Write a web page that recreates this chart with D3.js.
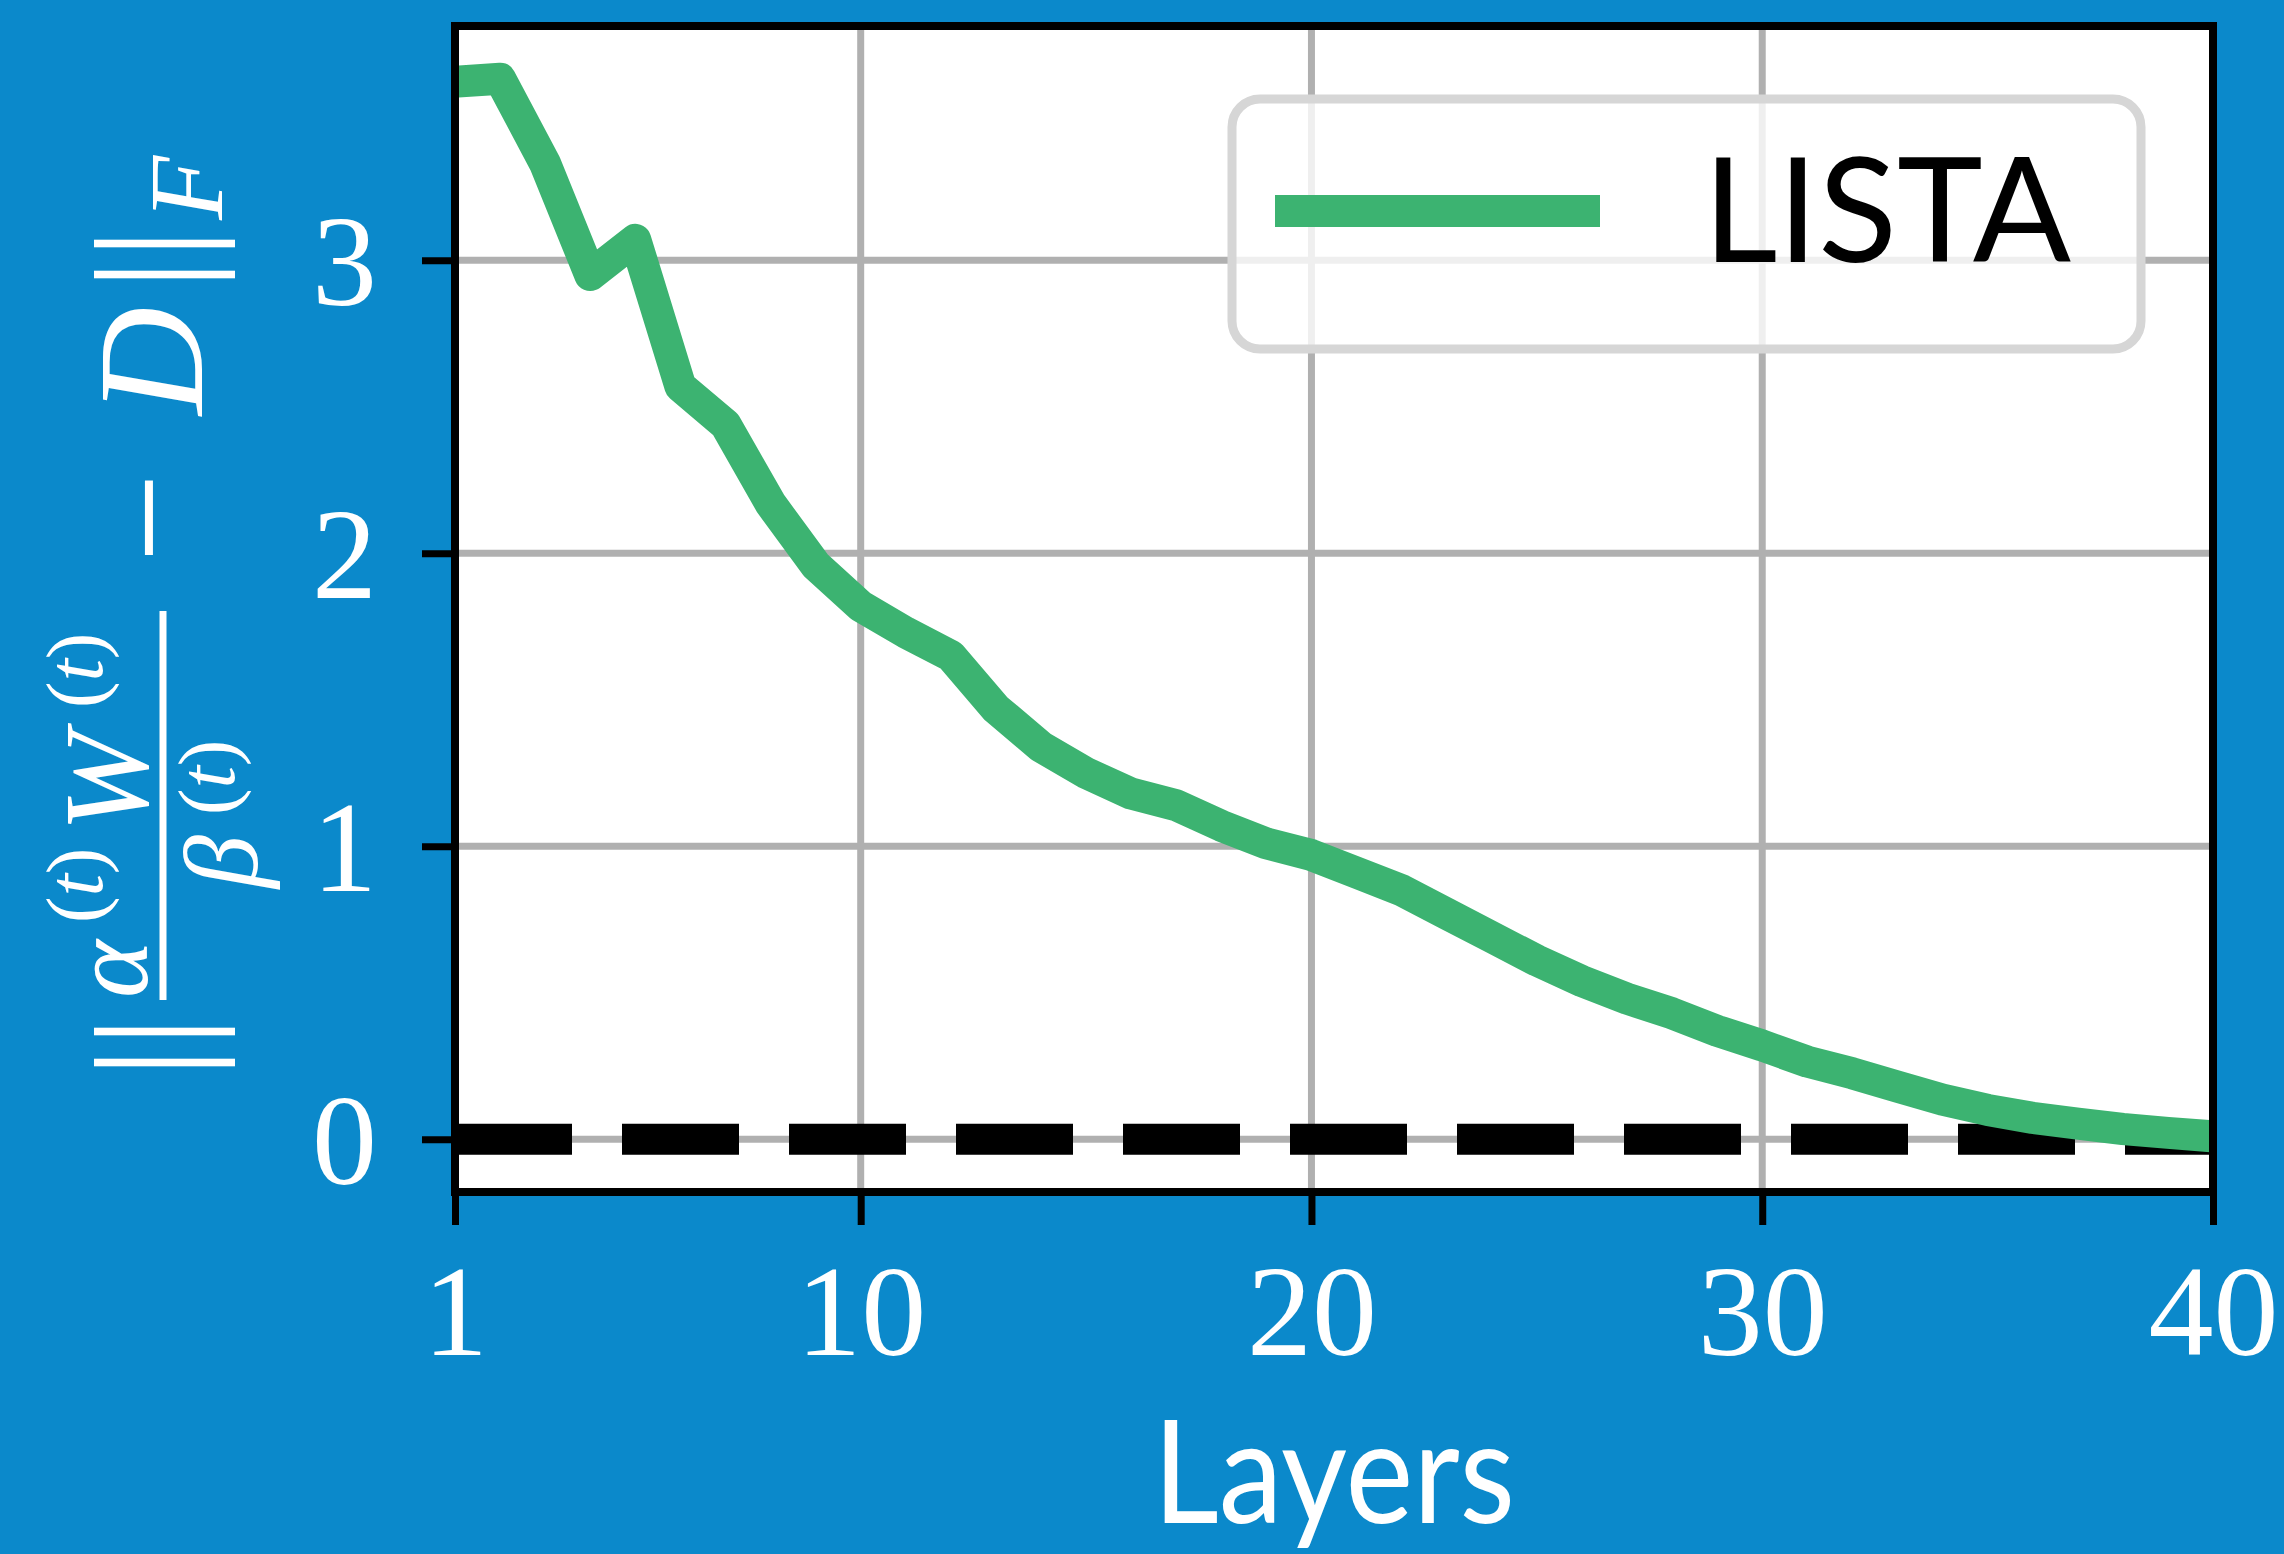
<!DOCTYPE html>
<html>
<head>
<meta charset="utf-8">
<script src="https://cdn.jsdelivr.net/npm/d3@7"></script>
<style>
  body { margin: 0; background: #0b89cb; }
  svg { display: block; }
</style>
</head>
<body>
<div id="chart"></div>
<script>
// chart data
const listaValues = [3.61, 3.62, 3.33, 2.95, 3.07, 2.57, 2.44, 2.17, 1.96, 1.82,
  1.73, 1.65, 1.47, 1.34, 1.25, 1.18, 1.14, 1.07, 1.01, 0.97,
  0.91, 0.85, 0.77, 0.69, 0.61, 0.54, 0.48, 0.43, 0.37, 0.32,
  0.265, 0.225, 0.18, 0.135, 0.10, 0.073, 0.053, 0.035, 0.022, 0.01];
const layers = listaValues.map((v, i) => i + 1);
const xTicks = [1, 10, 20, 30, 40];
const yTicks = [0, 1, 2, 3];
const seriesName = "LISTA";
const xLabel = "Layers";

// Set up size
const svgWidth = 2284;
const svgHeight = 1554;
const plot = { left: 455, right: 2213, top: 26, bottom: 1192 };

const svg = d3.select("#chart")
  .append("svg")
  .attr("width", svgWidth)
  .attr("height", svgHeight);

svg.append("rect")
  .attr("width", svgWidth)
  .attr("height", svgHeight)
  .attr("fill", "#0b89cb");

// scales
const x = d3.scaleLinear().domain([1, 40]).range([plot.left, plot.right]);
const y = d3.scaleLinear().domain([-0.18, 3.80]).range([plot.bottom, plot.top]);

// axes background
svg.append("rect")
  .attr("x", plot.left)
  .attr("y", plot.top)
  .attr("width", plot.right - plot.left)
  .attr("height", plot.bottom - plot.top)
  .attr("fill", "white");

svg.append("clipPath").attr("id", "clip")
  .append("rect")
  .attr("x", plot.left)
  .attr("y", plot.top)
  .attr("width", plot.right - plot.left)
  .attr("height", plot.bottom - plot.top);

// grid
const grid = svg.append("g").attr("stroke", "#b0b0b0").attr("stroke-width", 7);
grid.selectAll(".vgrid").data(xTicks).join("line")
  .attr("x1", d => x(d)).attr("x2", d => x(d))
  .attr("y1", plot.top).attr("y2", plot.bottom);
grid.selectAll(".hgrid").data(yTicks).join("line")
  .attr("x1", plot.left).attr("x2", plot.right)
  .attr("y1", d => y(d)).attr("y2", d => y(d));

// dashed zero line
svg.append("line")
  .attr("x1", x(1)).attr("x2", x(40))
  .attr("y1", y(0)).attr("y2", y(0))
  .attr("stroke", "black")
  .attr("stroke-width", 31)
  .attr("stroke-dasharray", "117,50");

// LISTA curve
const line = d3.line()
  .x((d, i) => x(layers[i]))
  .y(d => y(d));

svg.append("path")
  .datum(listaValues)
  .attr("clip-path", "url(#clip)")
  .attr("d", line)
  .attr("fill", "none")
  .attr("stroke", "#3cb371")
  .attr("stroke-width", 32)
  .attr("stroke-linejoin", "round")
  .attr("stroke-linecap", "square");

// axes with ticks
const xAxis = svg.append("g")
  .attr("transform", `translate(0, ${plot.bottom})`)
  .call(d3.axisBottom(x).tickValues(xTicks).tickSize(33).tickFormat(d3.format("d")));
const yAxis = svg.append("g")
  .attr("transform", `translate(${plot.left}, 0)`)
  .call(d3.axisLeft(y).tickValues(yTicks).tickSize(33).tickFormat(d3.format("d")));

[xAxis, yAxis].forEach(a => {
  a.select(".domain").remove();
  a.selectAll(".tick line").attr("stroke", "black").attr("stroke-width", 7);
  a.selectAll(".tick text")
    .attr("fill", "white")
    .style("font-family", "'Liberation Serif', serif")
    .style("font-size", "130px");
});
xAxis.selectAll(".tick text").attr("y", 163).attr("dy", null);
yAxis.selectAll(".tick text").attr("x", -78).attr("dy", 44);

// spines
svg.append("rect")
  .attr("x", plot.left)
  .attr("y", plot.top)
  .attr("width", plot.right - plot.left)
  .attr("height", plot.bottom - plot.top)
  .attr("fill", "none")
  .attr("stroke", "black")
  .attr("stroke-width", 8);

// x label
svg.append("text")
  .attr("x", (plot.left + plot.right) / 2)
  .attr("y", 1523)
  .attr("text-anchor", "middle")
  .attr("fill", "white")
  .attr("textLength", 362)
  .attr("lengthAdjust", "spacingAndGlyphs")
  .style("font-family", "Lato, sans-serif")
  .style("font-size", "144px")
  .text(xLabel);

// y label (math)
const yl = svg.append("g")
  .attr("transform", "translate(202, 1100) rotate(-90)")
  .attr("fill", "white")
  .style("font-family", "'Liberation Serif', serif");

function piece(u, v, size, txt, italic) {
  return yl.append("text")
    .attr("x", u).attr("y", v)
    .style("font-size", size + "px")
    .style("font-style", italic ? "italic" : "normal")
    .text(txt);
}
function sup(u, v, size) {
  const t = yl.append("text").attr("x", u).attr("y", v).style("font-size", size + "px");
  t.append("tspan").text("(");
  t.append("tspan").style("font-style", "italic").text("t");
  t.append("tspan").text(")");
}
piece(22, 0, 155, "||", false);
yl.append("line")
  .attr("x1", 100).attr("x2", 489)
  .attr("y1", -39).attr("y2", -39)
  .attr("stroke", "white").attr("stroke-width", 7);
piece(102, -55, 110, "α", true);
sup(177, -100, 80);
piece(268, -55, 120, "W", true);
sup(392, -100, 80);
piece(212, 55, 106, "β", true);
sup(285, 32, 80);
piece(537, 0, 160, "−", false);
piece(685, 0, 150, "D", true);
piece(810, 0, 155, "||", false);
piece(880, 20, 105, "F", true);

// legend
const legend = svg.append("g");
legend.append("rect")
  .attr("x", 1232).attr("y", 99)
  .attr("width", 909).attr("height", 250)
  .attr("rx", 28)
  .attr("fill", "white").attr("fill-opacity", 0.8)
  .attr("stroke", "#d6d6d6").attr("stroke-width", 9);
legend.append("line")
  .attr("x1", 1275).attr("x2", 1600)
  .attr("y1", 211).attr("y2", 211)
  .attr("stroke", "#3cb371").attr("stroke-width", 32);
legend.append("text")
  .attr("x", 1703).attr("y", 262)
  .attr("fill", "black")
  .attr("textLength", 368)
  .attr("lengthAdjust", "spacingAndGlyphs")
  .style("font-family", "Lato, sans-serif")
  .style("font-size", "146px")
  .text(seriesName);
</script>
</body>
</html>
